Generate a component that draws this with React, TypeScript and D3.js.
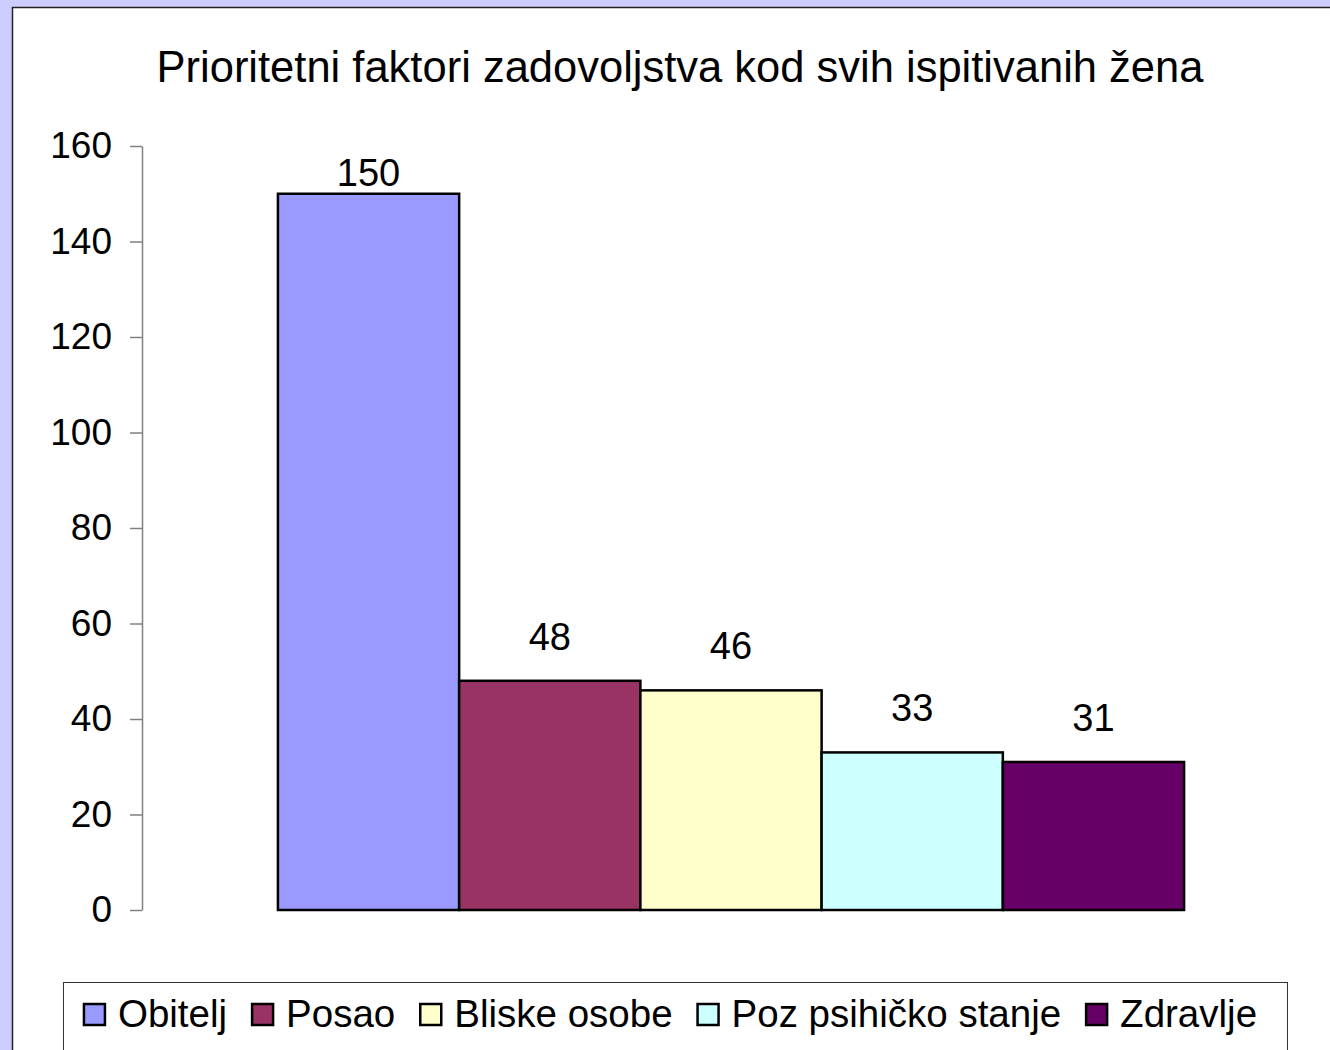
import React, { useEffect, useRef } from "react";
import * as d3 from "d3";

const width = 1330;
const height = 1050;

const title = "Prioritetni faktori zadovoljstva kod svih ispitivanih žena";
const categories = ["Obitelj", "Posao", "Bliske osobe", "Poz psihičko stanje", "Zdravlje"];
const values = [150, 48, 46, 33, 31];
const colors = ["#9999FF", "#993366", "#FFFFCC", "#CCFFFF", "#660066"];
const yTicks = [0, 20, 40, 60, 80, 100, 120, 140, 160];

const font = "'Liberation Sans', Arial, sans-serif";

export default function App() {
  const ref = useRef<SVGSVGElement>(null);

  useEffect(() => {
    const svg = d3.select(ref.current);
    svg.selectAll("*").remove();

    // page background + white chart area
    svg.append("rect").attr("width", width).attr("height", height).attr("fill", "#CCCCFF");
    svg
      .append("rect")
      .attr("x", 12.5)
      .attr("y", 7.5)
      .attr("width", width)
      .attr("height", height)
      .attr("fill", "#fff")
      .attr("stroke", "#222")
      .attr("stroke-width", 1.5);

    svg
      .append("text")
      .attr("x", 680)
      .attr("y", 82)
      .attr("text-anchor", "middle")
      .attr("font-family", font)
      .attr("font-size", 43.5)
      .text(title);

    const y = d3.scaleLinear().domain([0, 160]).range([910, 146]);
    const x = d3.scaleBand().domain(categories).range([142, 1320]).paddingInner(0).paddingOuter(0.75);

    // y axis
    const yAxis = d3
      .axisLeft(y)
      .tickValues(yTicks)
      .tickSize(12)
      .tickPadding(18)
      .tickSizeOuter(0);
    const ga = svg.append("g").attr("transform", "translate(142,0)").call(yAxis);
    ga.select(".domain").attr("stroke", "#808080").attr("stroke-width", 1.5);
    ga.selectAll(".tick line").attr("stroke", "#808080").attr("stroke-width", 1.5);
    ga.selectAll(".tick text")
      .attr("font-family", font)
      .attr("font-size", 37)
      .attr("fill", "#000");

    // bars
    svg
      .append("g")
      .selectAll("rect")
      .data(values)
      .join("rect")
      .attr("x", (d, i) => x(categories[i])!)
      .attr("y", (d) => y(d))
      .attr("width", x.bandwidth())
      .attr("height", (d) => y(0) - y(d))
      .attr("fill", (d, i) => colors[i])
      .attr("stroke", "#000")
      .attr("stroke-width", 2.5);

    // value labels (kept inside plot area like excel does)
    svg
      .append("g")
      .selectAll("text")
      .data(values)
      .join("text")
      .attr("x", (d, i) => x(categories[i])! + x.bandwidth() / 2)
      .attr("y", (d) => Math.max(y(d) - 31, y(160) + 40))
      .attr("text-anchor", "middle")
      .attr("font-family", font)
      .attr("font-size", 38)
      .text((d) => d);

    // legend
    const lg = svg.append("g");
    lg.append("rect")
      .attr("x", 63.5)
      .attr("y", 982.5)
      .attr("width", 1224)
      .attr("height", 120)
      .attr("fill", "#fff")
      .attr("stroke", "#333")
      .attr("stroke-width", 1);

    const items = lg.append("g");
    let cx = 0;
    categories.forEach((c, i) => {
      items
        .append("rect")
        .attr("x", cx + 1)
        .attr("y", 1004)
        .attr("width", 21)
        .attr("height", 21)
        .attr("fill", colors[i])
        .attr("stroke", "#000")
        .attr("stroke-width", 2.5);
      const t = items
        .append("text")
        .attr("x", cx + 35)
        .attr("y", 1027)
        .attr("font-family", font)
        .attr("font-size", 38.5)
        .text(c);
      const w = (t.node() as SVGTextElement).getComputedTextLength();
      cx += 35 + w + 24;
    });
    const total = cx - 24;
    items.attr("transform", `translate(${670 - total / 2},0)`);
  }, []);

  return (
    <div style={{ position: "absolute", left: 0, top: 0 }}>
      <svg ref={ref} width={width} height={height} style={{ display: "block" }} />
    </div>
  );
}
